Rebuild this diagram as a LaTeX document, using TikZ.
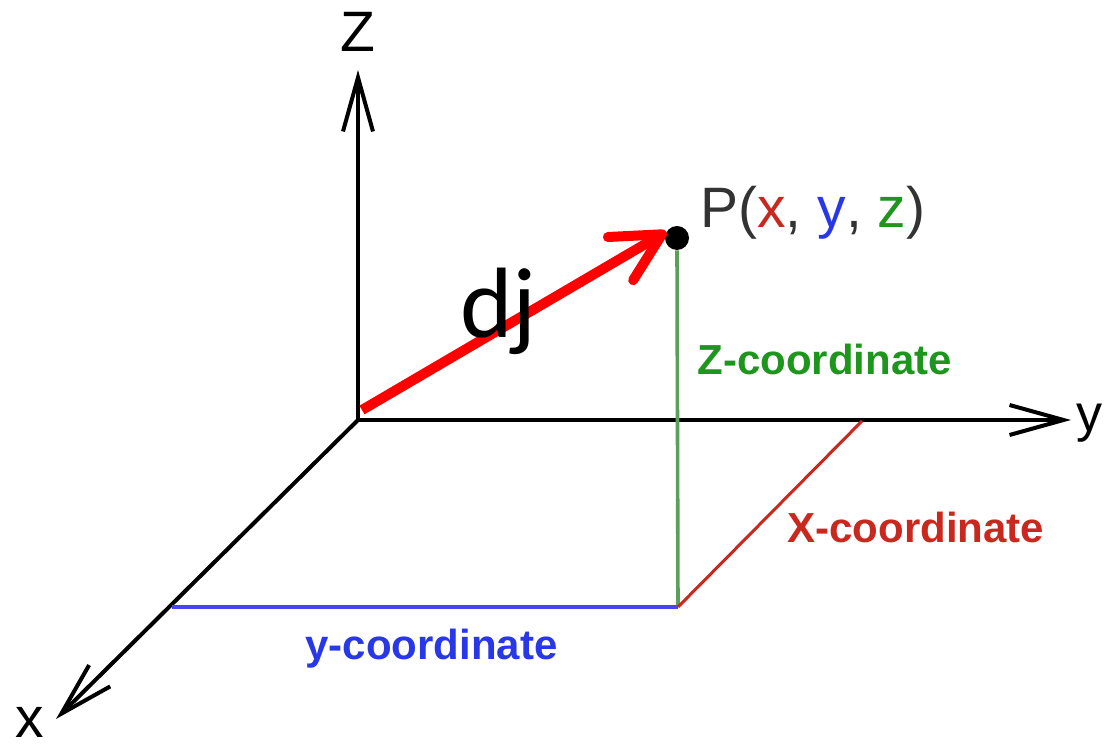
\documentclass[tikz,border=0pt]{standalone}
\usepackage{fontspec}
\setmainfont{Liberation Sans}
\newfontfamily\djfont{Carlito}
\usepackage{xcolor}
\usepackage{tikz}
\usetikzlibrary{arrows.meta}
\definecolor{coordred}{HTML}{C8281E}
\definecolor{coordgreen}{HTML}{1E961E}
\definecolor{coordblue}{HTML}{2838E6}
\definecolor{greenline}{HTML}{5AA05A}
\definecolor{blueline}{HTML}{4646F0}
\definecolor{darktext}{HTML}{333333}

\begin{document}
\begin{tikzpicture}[x=0.5pt, y=-0.5pt,
    axis/.style={line width=2pt, -{Straight Barb[length=27pt, width=15pt]}},
    axislabel/.style={inner sep=0pt, font=\fontsize{28.5}{30}\selectfont},
    coordlabel/.style={inner sep=0pt, anchor=base west, font=\fontsize{21}{23}\selectfont\bfseries}]
  \useasboundingbox (0,0) rectangle (1105,748);

  % axes
  \coordinate (O) at (358,420);
  \coordinate (Ztip) at (358,70);
  \coordinate (Ytip) at (1071,420);
  \coordinate (Xtip) at (56,719);
  \draw[axis] (O) -- (Ztip);
  \draw[axis] (O) -- (Ytip);
  \draw[axis] (O) -- (Xtip);
  \node[axislabel] (zlab) at (358,32) {Z};
  \node[axislabel, anchor=base west, font=\fontsize{26}{28}\selectfont] (ylab) at (1076,432) {y};
  \node[axislabel, anchor=base] (xlab) at (30,738) {x};

  % point P and its projections
  \node[circle, fill=black, inner sep=0pt, minimum size=12pt] (P) at (677,238) {};
  \coordinate (Pfoot) at (678,607);
  \coordinate (Xfoot) at (172,607);
  \coordinate (Yfoot) at (862,421);
  \draw[greenline, line width=1.8pt] (P.south) -- (Pfoot);
  \draw[blueline, line width=1.8pt] (Xfoot) -- (Pfoot);
  \draw[coordred, line width=1.5pt] (Pfoot) -- (Yfoot);
  \node[axislabel, anchor=base west, text=darktext] (plab) at (700,228)
    {P(\textcolor{coordred}{x}, \textcolor{coordblue}{y}, \textcolor{coordgreen}{z})};

  \node[coordlabel, text=coordgreen] (zcoord) at (697,375) {Z-coordinate};
  \node[coordlabel, text=coordred] (xcoord) at (787,543) {X-coordinate};
  \node[coordlabel, text=coordblue] (ycoord) at (305,660) {y-coordinate};

  % dj vector
  \coordinate (dstart) at (362,410);
  \draw[red, line width=5pt, -{Straight Barb[length=24pt, width=25pt, round]}] (dstart) -- (P.150);
  \node[inner sep=0pt, anchor=base west, font=\djfont\fontsize{50}{52}\selectfont] (dj) at (460,338) {dj};
\end{tikzpicture}
\end{document}
